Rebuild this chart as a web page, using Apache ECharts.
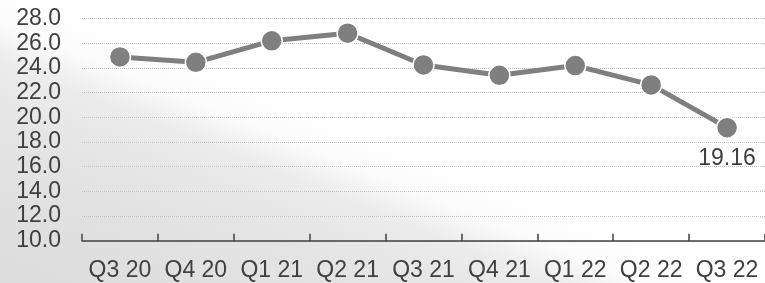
<!DOCTYPE html>
<html>
<head>
<meta charset="utf-8">
<script src="https://cdn.jsdelivr.net/npm/echarts@6/dist/echarts.min.js"></script>
<style>
  html, body { margin: 0; padding: 0; background: #fff; }
  #chart { width: 765px; height: 283px; }
</style>
</head>
<body>
<div id="chart"></div>
<script>
// quarters on the x axis
var quarters = ['Q3 20', 'Q4 20', 'Q1 21', 'Q2 21', 'Q3 21', 'Q4 21', 'Q1 22', 'Q2 22', 'Q3 22'];
// values (last one is labelled)
var values = [24.89, 24.45, 26.19, 26.81, 24.24, 23.4, 24.19, 22.62, 19.16];
var yMin = 10, yMax = 28, yStep = 2;

var textColor = '#404040';
var font = 'Liberation Sans';

var myChart = echarts.init(document.getElementById('chart'), null, { renderer: 'canvas' });

var option = {
    animation: false,
    // grey diagonal wash in the lower left
    backgroundColor: {
        type: 'linear', x: 200, y: 410, x2: 400, y2: -85, global: true,
        colorStops: [
            { offset: 0, color: '#d9d9d9' },
            { offset: 0.35, color: '#e4e4e4' },
            { offset: 0.47, color: '#ececec' },
            { offset: 0.53, color: '#fbfbfb' },
            { offset: 0.6, color: '#ffffff' },
            { offset: 1, color: '#ffffff' }
        ]
    },
    grid: { left: 82, top: 18.5, width: 688, height: 222.3, containLabel: false },
    xAxis: {
        type: 'category',
        data: quarters,
        boundaryGap: true,
        axisLine: { show: true, lineStyle: { color: textColor, width: 1.5 } },
        axisTick: { show: true, interval: 0, inside: true, length: 7, lineStyle: { color: textColor, width: 1.5 } },
        axisLabel: { interval: 0, color: textColor, fontFamily: font, fontSize: 23, margin: 18 },
        splitLine: { show: false }
    },
    yAxis: {
        type: 'value',
        min: yMin, max: yMax, interval: yStep,
        axisLine: { show: false },
        axisTick: { show: false },
        axisLabel: {
            color: textColor, fontFamily: font, fontSize: 23, margin: 21,
            formatter: function (v) { return v.toFixed(1); }
        },
        splitLine: { lineStyle: { color: '#c4c4c4', type: 'dotted', width: 1 } }
    },
    series: [{
        type: 'line',
        data: values,
        symbol: 'circle',
        symbolSize: 21,
        lineStyle: { color: '#7f7f7f', width: 5 },
        itemStyle: { color: '#7f7f7f', borderColor: '#ffffff', borderWidth: 1.5 },
        label: {
            show: true,
            position: 'bottom',
            distance: 8,
            color: textColor,
            fontFamily: font,
            fontSize: 23,
            formatter: function (p) {
                return p.dataIndex === values.length - 1 ? p.value.toFixed(2) : '';
            }
        }
    }]
};

myChart.setOption(option);
</script>
</body>
</html>
